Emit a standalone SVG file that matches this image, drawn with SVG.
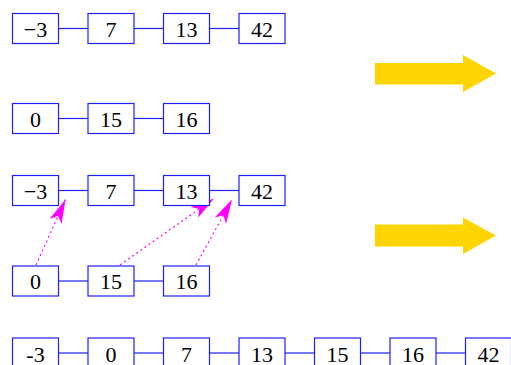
<svg xmlns="http://www.w3.org/2000/svg" width="511" height="365" viewBox="0 0 511 365">
<defs>
<style>
.box{fill:#fff;stroke:#1f1fff;stroke-width:1.2}
.lnk{stroke:#1f1fff;stroke-width:1.2;fill:none}
.t{font-family:"Liberation Serif","Times New Roman",serif;font-size:22px;text-anchor:middle;fill:#000}
.ptr{stroke:#ff00ff;stroke-width:1.2;stroke-dasharray:2,3;fill:none;marker-end:url(#mh)}
.big{fill:#ffd500}
</style>
<marker id="mh" viewBox="-26 -8 28 16" refX="0" refY="0" markerWidth="28" markerHeight="16" markerUnits="userSpaceOnUse" orient="auto">
<path d="M0,0 L-24,-6.5 L-18,0 L-24,6.5 Z" fill="#ff00ff"/>
</marker>
</defs>
<g id="connectors">
<line class="lnk" x1="58" y1="28.5" x2="88" y2="28.5"/>
<line class="lnk" x1="134" y1="28.5" x2="163.5" y2="28.5"/>
<line class="lnk" x1="209.5" y1="28.5" x2="239" y2="28.5"/>
<line class="lnk" x1="58" y1="118.5" x2="88" y2="118.5"/>
<line class="lnk" x1="134" y1="118.5" x2="163.5" y2="118.5"/>
<line class="lnk" x1="58" y1="190.5" x2="88" y2="190.5"/>
<line class="lnk" x1="134" y1="190.5" x2="163.5" y2="190.5"/>
<line class="lnk" x1="209.5" y1="190.5" x2="239" y2="190.5"/>
<line class="lnk" x1="58" y1="281" x2="88" y2="281"/>
<line class="lnk" x1="134" y1="281" x2="163.5" y2="281"/>
<line class="lnk" x1="58" y1="353" x2="88" y2="353"/>
<line class="lnk" x1="134" y1="353" x2="163.5" y2="353"/>
<line class="lnk" x1="209.5" y1="353" x2="239" y2="353"/>
<line class="lnk" x1="285" y1="353" x2="314.5" y2="353"/>
<line class="lnk" x1="360.5" y1="353" x2="390" y2="353"/>
<line class="lnk" x1="436" y1="353" x2="465.5" y2="353"/>
<line class="ptr" x1="36" y1="265" x2="65.5" y2="199.5"/>
<line class="ptr" x1="120" y1="265" x2="214" y2="198.5"/>
<line class="ptr" x1="196" y1="265" x2="232" y2="199.5"/>
</g>
<g id="a1"><rect class="box" x="12.5" y="13.5" width="46" height="30"/><text class="t" x="35.5" y="36.5">−3</text></g>
<g id="a2"><rect class="box" x="88" y="13.5" width="46" height="30"/><text class="t" x="111" y="36.5">7</text></g>
<g id="a3"><rect class="box" x="163.5" y="13.5" width="46" height="30"/><text class="t" x="186.5" y="36.5">13</text></g>
<g id="a4"><rect class="box" x="239" y="13.5" width="46" height="30"/><text class="t" x="262" y="36.5">42</text></g>
<g id="b1"><rect class="box" x="12.5" y="103.5" width="46" height="30"/><text class="t" x="35.5" y="126.5">0</text></g>
<g id="b2"><rect class="box" x="88" y="103.5" width="46" height="30"/><text class="t" x="111" y="126.5">15</text></g>
<g id="b3"><rect class="box" x="163.5" y="103.5" width="46" height="30"/><text class="t" x="186.5" y="126.5">16</text></g>
<g id="c1"><rect class="box" x="12.5" y="175.5" width="46" height="30"/><text class="t" x="35.5" y="198.5">−3</text></g>
<g id="c2"><rect class="box" x="88" y="175.5" width="46" height="30"/><text class="t" x="111" y="198.5">7</text></g>
<g id="c3"><rect class="box" x="163.5" y="175.5" width="46" height="30"/><text class="t" x="186.5" y="198.5">13</text></g>
<g id="c4"><rect class="box" x="239" y="175.5" width="46" height="30"/><text class="t" x="262" y="198.5">42</text></g>
<g id="d1"><rect class="box" x="12.5" y="266" width="46" height="30"/><text class="t" x="35.5" y="289">0</text></g>
<g id="d2"><rect class="box" x="88" y="266" width="46" height="30"/><text class="t" x="111" y="289">15</text></g>
<g id="d3"><rect class="box" x="163.5" y="266" width="46" height="30"/><text class="t" x="186.5" y="289">16</text></g>
<g id="e1"><rect class="box" x="12.5" y="338" width="46" height="30"/><text class="t" x="35.5" y="361.5">-3</text></g>
<g id="e2"><rect class="box" x="88" y="338" width="46" height="30"/><text class="t" x="111" y="361.5">0</text></g>
<g id="e3"><rect class="box" x="163.5" y="338" width="46" height="30"/><text class="t" x="186.5" y="361.5">7</text></g>
<g id="e4"><rect class="box" x="239" y="338" width="46" height="30"/><text class="t" x="262" y="361.5">13</text></g>
<g id="e5"><rect class="box" x="314.5" y="338" width="46" height="30"/><text class="t" x="337.5" y="361.5">15</text></g>
<g id="e6"><rect class="box" x="390" y="338" width="46" height="30"/><text class="t" x="413" y="361.5">16</text></g>
<g id="e7"><rect class="box" x="465.5" y="338" width="46" height="30"/><text class="t" x="488.5" y="361.5">42</text></g>
<g id="arrow1"><polygon class="big" points="375,63 463,63 463,55 496,73.5 463,92 463,84.5 375,84.5"/></g>
<g id="arrow2"><polygon class="big" points="375,224.5 463,224.5 463,217.5 496,235.5 463,254 463,246.5 375,246.5"/></g>
</svg>
